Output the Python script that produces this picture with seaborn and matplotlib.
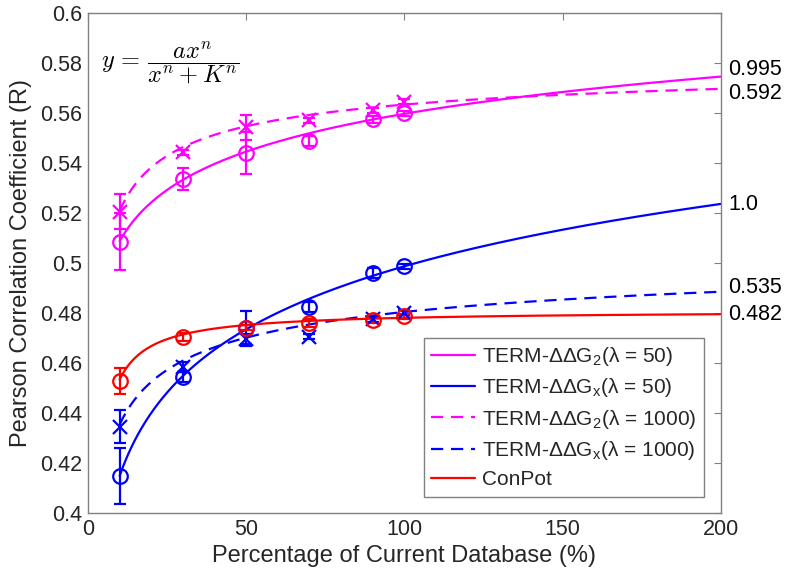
import numpy as np
import pandas as pd
import matplotlib
matplotlib.use("Agg")
import matplotlib.pyplot as plt
import seaborn as sns

# ---------------- data ----------------
pct = [10, 30, 50, 70, 90, 100]

g2_l50 = [0.5087, 0.5336, 0.5442, 0.5489, 0.5576, 0.5600]
g2_l50_err = [0.0115, 0.0044, 0.0085, 0.0020, 0.0015, 0.0010]
gx_l50 = [0.4149, 0.4547, 0.4740, 0.4824, 0.4960, 0.4989]
gx_l50_err = [0.0112, 0.0020, 0.0070, 0.0020, 0.0020, 0.0010]
g2_l1000 = [0.5206, 0.5445, 0.5545, 0.5573, 0.5613, 0.5647]
g2_l1000_err = [0.0070, 0.0010, 0.0050, 0.0010, 0.0010, 0.0010]
gx_l1000 = [0.4347, 0.4584, 0.4696, 0.4707, 0.4776, 0.4802]
gx_l1000_err = [0.0065, 0.0020, 0.0020, 0.0010, 0.0010, 0.0010]
conpot = [0.4530, 0.4706, 0.4742, 0.4762, 0.4773, 0.4789]
conpot_err = [0.0053, 0.0015, 0.0010, 0.0015, 0.0010, 0.0010]

# Hill-fit parameters (a, n, K) of y = a x^n / (x^n + K^n)
fit_g2_l50 = (0.913, 0.10, 1.0)
fit_gx_l50 = (0.913, 0.16, 31.3)
fit_g2_l1000 = (0.5856, 0.5, 0.154)
fit_gx_l1000 = (0.5158, 0.4, 0.146)
fit_conpot = (0.4811, 1.0, 0.609)

# right-hand annotations
end_labels = ["0.995", "0.592", "1.0", "0.535", "0.482"]
end_label_y = [0.5776, 0.5680, 0.5237, 0.4902, 0.4794]

series_names = ["TERM-ΔΔG$_2$(λ = 50)", "TERM-ΔΔG$_\\mathregular{x}$(λ = 50)",
                "TERM-ΔΔG$_2$(λ = 1000)", "TERM-ΔΔG$_\\mathregular{x}$(λ = 1000)", "ConPot"]

# ---------------- style ----------------
sns.set_style("white")
plt.rcParams['font.family'] = ['Liberation Sans', 'DejaVu Sans']
plt.rcParams['mathtext.fontset'] = 'custom'
plt.rcParams['mathtext.rm'] = 'Liberation Sans'
plt.rcParams['mathtext.it'] = 'Liberation Sans:italic'

MAG = '#ff00ff'
BLU = '#0000ff'
RED = '#ff0000'
GRAY = '#808080'
TXT = '#262626'

fig = plt.figure(figsize=(7.87, 5.76), dpi=100)
ax = fig.add_axes([0.1118, 0.1089, 0.8040, 0.8680])

xs = np.linspace(10, 200, 400)
def hill(p, x):
    a, n, K = p
    return a * x**n / (x**n + K**n)

curves = [
    (fit_g2_l50, MAG, '-', series_names[0]),
    (fit_gx_l50, BLU, '-', series_names[1]),
    (fit_g2_l1000, MAG, '--', series_names[2]),
    (fit_gx_l1000, BLU, '--', series_names[3]),
    (fit_conpot, RED, '-', series_names[4]),
]
frames = []
for p, c, ls, name in curves:
    frames.append(pd.DataFrame({'x': xs, 'y': hill(p, xs), 'series': name}))
df = pd.concat(frames, ignore_index=True)

palette = {name: c for p, c, ls, name in curves}
dashes = {name: ('' if ls == '-' else (5.5, 3.5)) for p, c, ls, name in curves}
sns.lineplot(data=df, x='x', y='y', hue='series', style='series',
             palette=palette, dashes=dashes, linewidth=1.6, ax=ax,
             hue_order=series_names, style_order=series_names, sort=False)

pts = [
    (g2_l50, g2_l50_err, MAG, 'o'),
    (gx_l50, gx_l50_err, BLU, 'o'),
    (g2_l1000, g2_l1000_err, MAG, 'x'),
    (gx_l1000, gx_l1000_err, BLU, 'x'),
    (conpot, conpot_err, RED, 'o'),
]
for y, e, c, m in pts:
    ax.errorbar(pct, y, yerr=e, fmt=m, color=c, mfc='none', mec=c,
                ms=10.5, mew=1.6, elinewidth=1.6, capsize=4, capthick=1.6)

ax.set_xlim(0, 200)
ax.set_ylim(0.4, 0.6)
ax.set_xticks([0, 50, 100, 150, 200])
ax.set_yticks(np.round(np.arange(0.4, 0.6001, 0.02), 2))
ax.set_yticklabels(['0.4', '0.42', '0.44', '0.46', '0.48', '0.5', '0.52', '0.54', '0.56', '0.58', '0.6'])
ax.tick_params(direction='in', length=5, width=0.8, color=GRAY, labelsize=15.5,
               labelcolor=TXT, top=True, right=True, pad=4)
for s in ax.spines.values():
    s.set_color(GRAY)
    s.set_linewidth(1.0)
ax.set_xlabel('Percentage of Current Database (%)', fontsize=17, color=TXT, labelpad=4)
ax.set_ylabel('Pearson Correlation Coefficient (R)', fontsize=17, color=TXT, labelpad=6)

for lab, yy in zip(end_labels, end_label_y):
    ax.annotate(lab, xy=(202.3, yy), xycoords='data', ha='left', va='center',
                fontsize=15.5, color='black', annotation_clip=False)

ax.text(4.0, 0.5805, r'$y\, =\, \dfrac{ax^n}{x^n + K^n}$', fontsize=17.5,
        math_fontfamily='cm', ha='left', va='center', color='black')

handles, labels = ax.get_legend_handles_labels()
leg = ax.legend(handles[:5], labels[:5], loc='lower right', fontsize=15,
                frameon=True, fancybox=False, edgecolor=GRAY, framealpha=1,
                handlelength=2.1, handletextpad=0.35, borderaxespad=0.8,
                labelspacing=0.4, borderpad=0.35)
leg.get_frame().set_linewidth(1.0)

fig.savefig('out.png', dpi=100)
